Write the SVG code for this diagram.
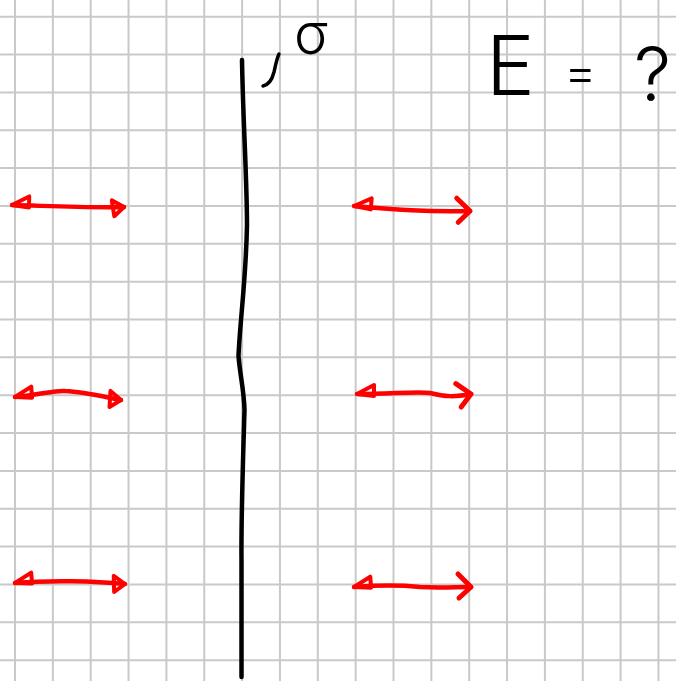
<svg xmlns="http://www.w3.org/2000/svg" width="676" height="681" viewBox="0 0 676 681">
<style>
.grid{fill:none;stroke:#c9c9c9;stroke-width:2}
.ink{fill:none;stroke:#000;stroke-linecap:round;stroke-linejoin:round}
.arrow{fill:none;stroke:#ff0000;stroke-width:4.5;stroke-linecap:round;stroke-linejoin:round}
.label{font-family:Inter,"Liberation Sans",sans-serif;font-weight:300;fill:#000}
</style>
<defs>
<marker id="triStart" markerUnits="userSpaceOnUse" markerWidth="40" markerHeight="40" viewBox="-20 -20 40 40" refX="0" refY="0" orient="auto" overflow="visible">
<path d="M0,0 L17,-9 L17,2 Z" fill="none" stroke="#ff0000" stroke-width="4" stroke-linejoin="round"/>
</marker>
<marker id="triEnd" markerUnits="userSpaceOnUse" markerWidth="40" markerHeight="40" viewBox="-20 -20 40 40" refX="0" refY="0" orient="auto" overflow="visible">
<path d="M0,0 L-12,-7 L-10,9 Z" fill="none" stroke="#ff0000" stroke-width="4" stroke-linejoin="round"/>
</marker>
<marker id="chevEnd" markerUnits="userSpaceOnUse" markerWidth="40" markerHeight="40" viewBox="-20 -20 40 40" refX="0" refY="0" orient="auto" overflow="visible">
<path d="M-13,-13 L0,0 L-12,11" fill="none" stroke="#ff0000" stroke-width="5" stroke-linecap="round" stroke-linejoin="round"/>
</marker>
</defs>
<rect width="676" height="681" fill="#ffffff"/>
<path class="grid" d="M15,0V681M52.85,0V681M90.7,0V681M128.55,0V681M166.4,0V681M204.25,0V681M242.1,0V681M279.95,0V681M317.8,0V681M355.65,0V681M393.5,0V681M431.35,0V681M469.2,0V681M507.05,0V681M544.9,0V681M582.75,0V681M620.6,0V681M658.45,0V681M0,16.7H676M0,54.55H676M0,92.4H676M0,130.25H676M0,168.1H676M0,205.95H676M0,243.8H676M0,281.65H676M0,319.5H676M0,357.35H676M0,395.2H676M0,433.05H676M0,470.9H676M0,508.75H676M0,546.6H676M0,584.45H676M0,622.3H676M0,660.15H676"/>
<g id="sheet">
<path class="ink" stroke-width="4.5" d="M242,60 C243,120 247,180 247,225 C246,280 240,320 238.5,356 C240,375 244,390 244.5,410 C243,460 241,520 241.5,560 L241.5,677"/>
<path class="ink" stroke-width="3.5" d="M263,86 C268,85 272,80 274,72 C276,63 277,58 279,54"/>
</g>
<g id="sigma-label"><text class="label" x="294" y="54" font-size="56">σ</text></g>
<g id="question-label"><text class="label" x="486" y="95" font-size="82">E <tspan x="564" y="90" font-size="50">= </tspan><tspan x="634" y="101" font-size="74">?</tspan></text></g>
<g id="field-arrows">
<path class="arrow" marker-start="url(#triStart)" marker-end="url(#triEnd)" d="M12,205 C50,206 90,208 124,207"/>
<path class="arrow" marker-start="url(#triStart)" marker-end="url(#chevEnd)" d="M354,206 C390,209 420,212 470,211"/>
<path class="arrow" marker-start="url(#triStart)" marker-end="url(#triEnd)" d="M15,397 C40,395 55,390 65,391 C85,392 105,397 121,400"/>
<path class="arrow" marker-start="url(#triStart)" marker-end="url(#chevEnd)" d="M357,394 C390,394 420,391 430,393 C445,397 455,397 471,394"/>
<path class="arrow" marker-start="url(#triStart)" marker-end="url(#triEnd)" d="M15,583 C50,580 95,581 125,584"/>
<path class="arrow" marker-start="url(#triStart)" marker-end="url(#chevEnd)" d="M354,587 C380,585 400,585 420,587 C440,588 455,587 471,587"/>
</g>
</svg>
